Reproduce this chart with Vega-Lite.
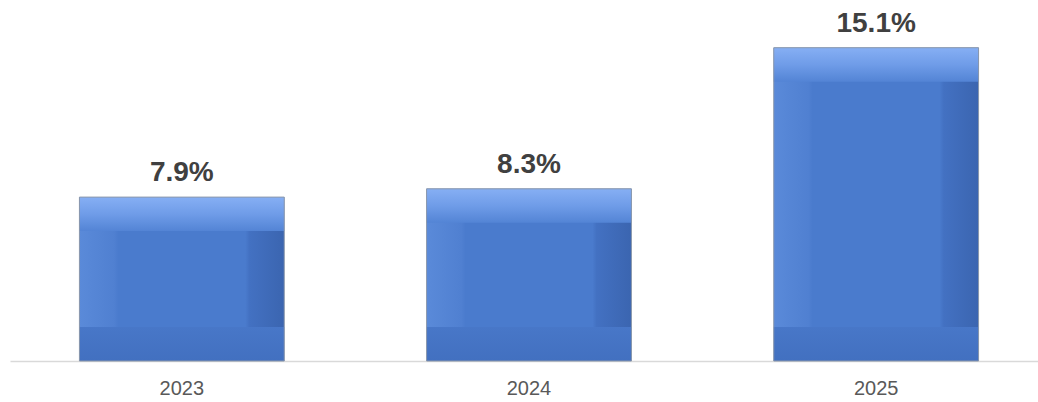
{
  "$schema": "https://vega.github.io/schema/vega-lite/v6.json",
  "width": 1038,
  "height": 361,
  "autosize": "none",
  "padding": {"left": 10, "top": 0, "right": 0, "bottom": 41},
  "background": "white",
  "config": {"view": {"stroke": null}},
  "data": {"values": [
    {"year": "2023", "value": 7.9, "label": "7.9%"},
    {"year": "2024", "value": 8.3, "label": "8.3%"},
    {"year": "2025", "value": 15.1, "label": "15.1%"}
  ]},
  "encoding": {
    "x": {"field": "year", "type": "nominal", "sort": null,
      "scale": {"paddingInner": 0.41, "paddingOuter": 0.2},
      "axis": {"title": null, "ticks": false, "domainColor": "#d9d9d9", "domainWidth": 1.5,
        "labelAngle": 0, "labelFont": "Liberation Sans, Arial, sans-serif",
        "labelFontSize": 20, "labelColor": "#595959", "labelPadding": 17}},
    "y": {"field": "value", "type": "quantitative", "scale": {"domain": [0, 17.4]}, "axis": null}
  },
  "layer": [
    {"mark": {"type": "bar", "strokeWidth": 0,
      "color": {"gradient": "linear", "x1": 0, "y1": 0, "x2": 1, "y2": 0,
        "stops": [
          {"offset": 0, "color": "#5a8ad9"},
          {"offset": 0.17, "color": "#5080d1"},
          {"offset": 0.19, "color": "#4a7bcd"},
          {"offset": 0.81, "color": "#4a7bcd"},
          {"offset": 0.83, "color": "#4371c2"},
          {"offset": 1, "color": "#3b65b0"}
        ]}}},
    {"mark": {"type": "bar", "y2Offset": 34, "strokeWidth": 0,
      "color": {"gradient": "linear", "x1": 0, "y1": 0, "x2": 0, "y2": 1,
        "stops": [
          {"offset": 0, "color": "#86aff4"},
          {"offset": 0.5, "color": "#6f9ce8"},
          {"offset": 1, "color": "#5384d5"}
        ]}},
      "encoding": {"y2": {"field": "value"}}},
    {"mark": {"type": "bar", "yOffset": -34, "strokeWidth": 0,
      "color": {"gradient": "linear", "x1": 0, "y1": 0, "x2": 0, "y2": 1,
        "stops": [
          {"offset": 0, "color": "#4877c8"},
          {"offset": 1, "color": "#4270c0"}
        ]}},
      "encoding": {"y": {"datum": 0, "type": "quantitative"}, "y2": {"datum": 0}}},
    {"mark": {"type": "bar", "fillOpacity": 0, "stroke": "#8a97ab", "strokeWidth": 1}},
    {"mark": {"type": "text", "baseline": "alphabetic", "dy": -16,
      "font": "Liberation Sans, Arial, sans-serif",
      "fontWeight": "bold", "fontSize": 28, "color": "#404040"},
      "encoding": {"text": {"field": "label"}}}
  ]
}
